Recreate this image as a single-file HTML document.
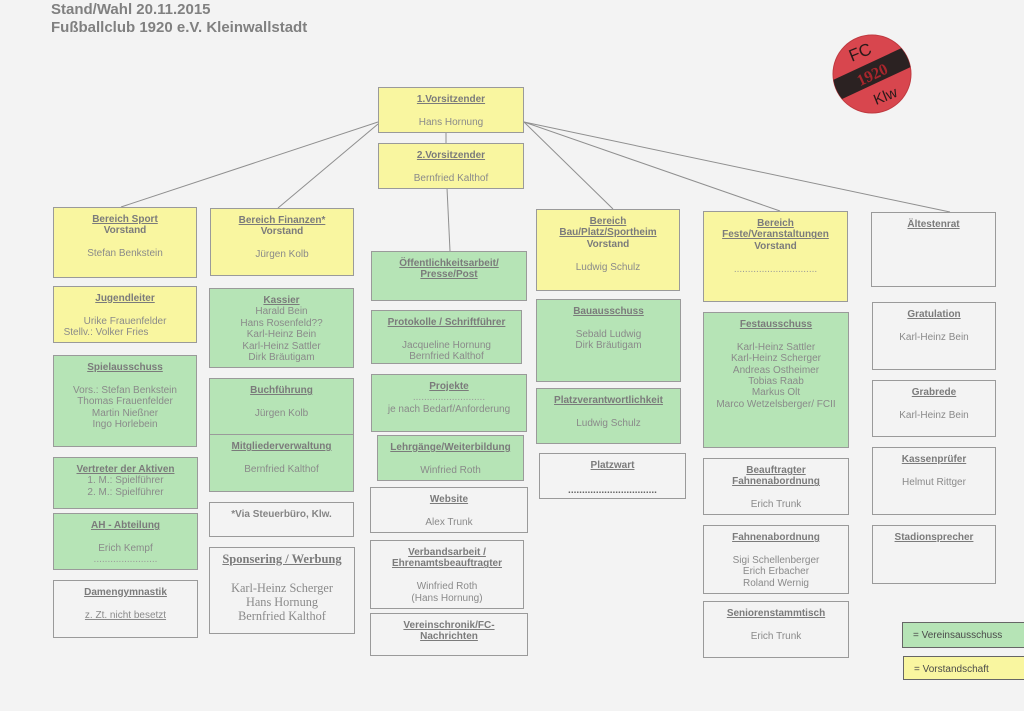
<!DOCTYPE html>
<html><head><meta charset="utf-8">
<style>
html,body{margin:0;padding:0;}
body{width:1024px;height:711px;background:#f3f3f3;position:relative;overflow:hidden;font-family:"Liberation Sans",Arial,sans-serif;}
.t{position:absolute;left:51px;font:bold 15px/18px "Liberation Sans",Arial,sans-serif;color:#808080;white-space:nowrap;}
.bx{position:absolute;box-sizing:border-box;border:1px solid #9a9a9a;text-align:center;font:10px/11.4px "Liberation Sans",Arial,sans-serif;color:#8a8a8a;padding-top:6px;white-space:nowrap;overflow:hidden;}
.y{background:#f9f6a0;}
.g{background:#b6e4b6;}
.w{background:transparent;}
.h{font-weight:bold;text-decoration:underline;color:#7b7b7b;}
.b{font-weight:bold;color:#7b7b7b;}
.d{color:#999;letter-spacing:0;}
.lg{position:absolute;box-sizing:border-box;border:1px solid #666;font:10px/11.4px "Liberation Sans",Arial,sans-serif;color:#4a4a4a;padding-left:10px;white-space:nowrap;}
svg{position:absolute;left:0;top:0;}
</style></head><body>

<div class="t" style="top:1px;">Stand/Wahl 20.11.2015</div>
<div class="t" style="top:19px;">Fußballclub 1920 e.V. Kleinwallstadt</div>

<svg width="1024" height="711" viewBox="0 0 1024 711">
  <g stroke="#8f8f8f" stroke-width="1" fill="none">
    <line x1="378" y1="122" x2="121" y2="207"/>
    <line x1="378" y1="124" x2="278" y2="208"/>
    <line x1="446" y1="132" x2="446" y2="143"/>
    <line x1="447" y1="188" x2="450" y2="251"/>
    <line x1="524" y1="122" x2="613" y2="209"/>
    <line x1="524" y1="122" x2="780" y2="211"/>
    <line x1="524" y1="122" x2="950" y2="212"/>
  </g>
  <defs><clipPath id="cc"><circle cx="872" cy="74" r="39"/></clipPath></defs>
  <circle cx="872" cy="74" r="39" fill="#d8464e" stroke="#c03a40" stroke-width="1"/>
  <g clip-path="url(#cc)">
    <rect x="822" y="63" width="100" height="21" fill="#2b2222" transform="rotate(-25 872 74)"/>
  </g>
  <text x="860" y="58" font-family="Liberation Sans, sans-serif" font-size="17" fill="#2b1a1a" text-anchor="middle" transform="rotate(-22 860 52)">FC</text>
  <text x="872" y="80" font-family="Liberation Serif, serif" font-weight="bold" font-size="16" fill="#a8262c" text-anchor="middle" transform="rotate(-25 872 74)">1920</text>
  <text x="885" y="101" font-family="Liberation Sans, sans-serif" font-size="15" fill="#2b1a1a" text-anchor="middle" transform="rotate(-22 885 95)">Klw</text>
</svg>

<!-- top -->
<div class="bx y" style="left:378px;top:87px;width:146px;height:46px;"><span class="h">1.Vorsitzender</span><br><br>Hans Hornung</div>
<div class="bx y" style="left:378px;top:143px;width:146px;height:46px;"><span class="h">2.Vorsitzender</span><br><br>Bernfried Kalthof</div>

<!-- column 1 -->
<div class="bx y" style="left:53px;top:207px;width:144px;height:71px;"><span class="h">Bereich Sport</span><br><span class="b">Vorstand</span><br><br>Stefan Benkstein</div>
<div class="bx y" style="left:53px;top:286px;width:144px;height:57px;"><span class="h">Jugendleiter</span><br><br>Urike Frauenfelder<br><span style="position:relative;left:-19px;">Stellv.: Volker Fries</span></div>
<div class="bx g" style="left:53px;top:355px;width:144px;height:92px;"><span class="h">Spielausschuss</span><br><br>Vors.: Stefan Benkstein<br>Thomas Frauenfelder<br>Martin Nießner<br>Ingo Horlebein</div>
<div class="bx g" style="left:53px;top:457px;width:145px;height:52px;"><span class="h">Vertreter der Aktiven</span><br>1. M.: Spielführer<br>2. M.: Spielführer</div>
<div class="bx g" style="left:53px;top:513px;width:145px;height:57px;"><span class="h">AH - Abteilung</span><br><br>Erich Kempf<br><span class="d">.......................</span></div>
<div class="bx w" style="left:53px;top:580px;width:145px;height:58px;"><span class="h">Damengymnastik</span><br><br><span style="text-decoration:underline;">z. Zt. nicht besetzt</span></div>

<!-- column 2 -->
<div class="bx y" style="left:210px;top:208px;width:144px;height:68px;"><span class="h">Bereich Finanzen*</span><br><span class="b">Vorstand</span><br><br>Jürgen Kolb</div>
<div class="bx g" style="left:209px;top:288px;width:145px;height:80px;"><span class="h">Kassier</span><br>Harald Bein<br>Hans Rosenfeld??<br>Karl-Heinz Bein<br>Karl-Heinz Sattler<br>Dirk Bräutigam</div>
<div class="bx g" style="left:209px;top:378px;width:145px;height:57px;"><span class="h">Buchführung</span><br><br>Jürgen Kolb</div>
<div class="bx g" style="left:209px;top:434px;width:145px;height:58px;"><span class="h">Mitgliederverwaltung</span><br><br>Bernfried Kalthof</div>
<div class="bx w" style="left:209px;top:502px;width:145px;height:35px;"><span class="b" style="color:#858585;">*Via Steuerbüro, Klw.</span></div>
<div class="bx w" style="left:209px;top:547px;width:146px;height:87px;font-family:'Liberation Serif','Times New Roman',serif;padding-top:4px;color:#8a8a8a;">
  <div style="font-weight:bold;text-decoration:underline;font-size:12.5px;line-height:14px;color:#7b7b7b;">Sponsering / Werbung</div>
  <div style="height:15px;"></div>
  <div style="font-size:12.3px;line-height:14px;">Karl-Heinz Scherger<br>Hans Hornung<br>Bernfried Kalthof</div>
</div>

<!-- column 3 -->
<div class="bx g" style="left:371px;top:251px;width:156px;height:50px;"><span class="h">Öffentlichkeitsarbeit/</span><br><span class="h">Presse/Post</span></div>
<div class="bx g" style="left:371px;top:310px;width:151px;height:54px;"><span class="h">Protokolle / Schriftführer</span><br><br>Jacqueline Hornung<br>Bernfried Kalthof</div>
<div class="bx g" style="left:371px;top:374px;width:156px;height:58px;"><span class="h">Projekte</span><br><span class="d">..........................</span><br>je nach Bedarf/Anforderung</div>
<div class="bx g" style="left:377px;top:435px;width:147px;height:46px;"><span class="h">Lehrgänge/Weiterbildung</span><br><br>Winfried Roth</div>
<div class="bx w" style="left:370px;top:487px;width:158px;height:46px;"><span class="h">Website</span><br><br>Alex Trunk</div>
<div class="bx w" style="left:370px;top:540px;width:154px;height:69px;"><span class="h">Verbandsarbeit /</span><br><span class="h">Ehrenamtsbeauftragter</span><br><br>Winfried Roth<br>(Hans Hornung)</div>
<div class="bx w" style="left:370px;top:613px;width:158px;height:43px;"><span class="h">Vereinschronik/FC-</span><br><span class="h">Nachrichten</span></div>

<!-- column 4 -->
<div class="bx y" style="left:536px;top:209px;width:144px;height:82px;"><span class="h">Bereich</span><br><span class="h">Bau/Platz/Sportheim</span><br><span class="b">Vorstand</span><br><br>Ludwig Schulz</div>
<div class="bx g" style="left:536px;top:299px;width:145px;height:83px;"><span class="h">Bauausschuss</span><br><br>Sebald Ludwig<br>Dirk Bräutigam</div>
<div class="bx g" style="left:536px;top:388px;width:145px;height:56px;"><span class="h">Platzverantwortlichkeit</span><br><br>Ludwig Schulz</div>
<div class="bx w" style="left:539px;top:453px;width:147px;height:46px;"><span class="h">Platzwart</span><div style="margin-top:14px;color:#666;font-weight:bold;">................................</div></div>

<!-- column 5 -->
<div class="bx y" style="left:703px;top:211px;width:145px;height:91px;"><span class="h">Bereich</span><br><span class="h">Feste/Veranstaltungen</span><br><span class="b">Vorstand</span><br><br><span class="d">..............................</span></div>
<div class="bx g" style="left:703px;top:312px;width:146px;height:136px;"><span class="h">Festausschuss</span><br><br>Karl-Heinz Sattler<br>Karl-Heinz Scherger<br>Andreas Ostheimer<br>Tobias Raab<br>Markus Olt<br>Marco Wetzelsberger/ FCII</div>
<div class="bx w" style="left:703px;top:458px;width:146px;height:57px;"><span class="h">Beauftragter</span><br><span class="h">Fahnenabordnung</span><br><br>Erich Trunk</div>
<div class="bx w" style="left:703px;top:525px;width:146px;height:69px;"><span class="h">Fahnenabordnung</span><br><br>Sigi Schellenberger<br>Erich Erbacher<br>Roland Wernig</div>
<div class="bx w" style="left:703px;top:601px;width:146px;height:57px;"><span class="h">Seniorenstammtisch</span><br><br>Erich Trunk</div>

<!-- column 6 -->
<div class="bx w" style="left:871px;top:212px;width:125px;height:75px;"><span class="h">Ältestenrat</span></div>
<div class="bx w" style="left:872px;top:302px;width:124px;height:68px;"><span class="h">Gratulation</span><br><br>Karl-Heinz Bein</div>
<div class="bx w" style="left:872px;top:380px;width:124px;height:57px;"><span class="h">Grabrede</span><br><br>Karl-Heinz Bein</div>
<div class="bx w" style="left:872px;top:447px;width:124px;height:68px;"><span class="h">Kassenprüfer</span><br><br>Helmut Rittger</div>
<div class="bx w" style="left:872px;top:525px;width:124px;height:59px;"><span class="h">Stadionsprecher</span></div>

<!-- legend -->
<div class="lg g" style="left:902px;top:622px;width:130px;height:26px;padding-top:7px;">= Vereinsausschuss</div>
<div class="lg y" style="left:903px;top:656px;width:130px;height:24px;padding-top:7px;">= Vorstandschaft</div>

</body></html>
